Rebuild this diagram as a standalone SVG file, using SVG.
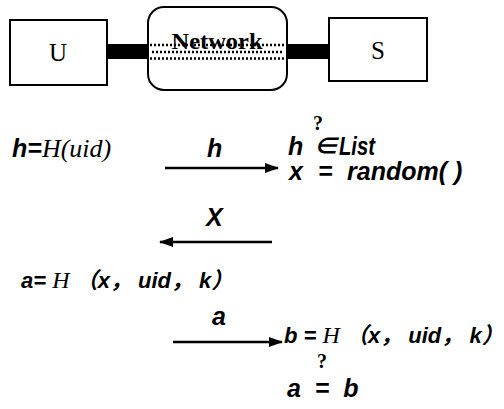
<svg xmlns="http://www.w3.org/2000/svg" width="504" height="409" viewBox="0 0 504 409">
  <style>
    .box { fill: #fff; stroke: #000; stroke-width: 2; }
    .lbl { font-family: "Liberation Serif", "Times New Roman", serif; font-size: 25px; fill: #000; text-anchor: middle; }
    .net { font-family: "Liberation Serif", "Times New Roman", serif; font-size: 24px; font-weight: bold; fill: #000; text-anchor: middle; }
    .f { font-family: "Liberation Sans", Arial, "Noto Sans CJK SC", sans-serif; font-size: 25px; font-weight: bold; font-style: italic; fill: #000; }
    .g { font-size: 22px; }
    .h { font-family: "Liberation Serif", "Times New Roman", serif; font-weight: normal; font-style: italic; }
    .q { font-family: "Liberation Serif", "Times New Roman", serif; font-size: 20px; font-weight: bold; fill: #000; text-anchor: middle; }
    .link { stroke: #000; stroke-width: 15; }
    .dots { stroke: #000; stroke-width: 2.5; stroke-dasharray: 2 2; }
    .arr { stroke: #000; stroke-width: 2.5; fill: none; marker-end: url(#head); }
  </style>
  <defs>
    <marker id="head" viewBox="0 0 14 10" refX="13" refY="5" markerWidth="14" markerHeight="10" markerUnits="userSpaceOnUse" orient="auto">
      <path d="M0,0 L14,5 L0,10 Z" fill="#000"/>
    </marker>
  </defs>

  <!-- thick links between the parties and the network -->
  <g id="links">
    <line class="link" x1="107" y1="51.5" x2="150" y2="51.5"/>
    <line class="link" x1="286" y1="51.5" x2="330" y2="51.5"/>
  </g>

  <g id="node-U">
    <rect class="box" x="10" y="20" width="97" height="65"/>
    <text class="lbl" x="58" y="61">U</text>
  </g>

  <g id="node-Network">
    <rect class="box" x="148" y="7" width="139" height="83" rx="16"/>
    <text class="net" x="217" y="49" textLength="91" lengthAdjust="spacingAndGlyphs">Network</text>
    <!-- dotted channel through the network -->
    <line class="dots" x1="150" y1="45" x2="285" y2="45"/>
    <line class="dots" x1="152" y1="52" x2="284" y2="52"/>
    <line class="dots" x1="150" y1="58.5" x2="285" y2="58.5"/>
  </g>

  <g id="node-S">
    <rect class="box" x="329" y="18" width="98" height="63"/>
    <text class="lbl" x="378" y="59">S</text>
  </g>

  <!-- message flow -->
  <g id="connectors">
    <line class="arr" x1="165" y1="168" x2="278" y2="168"/>
    <line class="arr" x1="272" y1="242" x2="160" y2="242"/>
    <line class="arr" x1="173" y1="342" x2="282" y2="342"/>
  </g>

  <g id="msg-labels">
    <text class="f" x="207" y="157">h</text>
    <text class="f" x="206" y="226" font-style="normal" font-size="26">X</text>
    <text class="f" x="212" y="325">a</text>
  </g>

  <g id="user-side">
    <text class="f" x="12" y="157">h=<tspan class="h" font-size="26">H(uid)</tspan></text>
    <text class="f g" x="21" y="288">a= <tspan class="h" font-size="24">H</tspan> （x， uid， k）</text>
  </g>

  <g id="server-side">
    <text class="f" x="288" y="155">h</text>
    <text class="f" x="313" y="155" font-style="normal" font-weight="normal" font-size="17">∈</text>
    <text class="q" x="318" y="130" font-size="15">?</text>
    <text class="f" x="339" y="155" textLength="36" lengthAdjust="spacingAndGlyphs">List</text>
    <text class="f" x="289" y="180" font-size="24">x</text>
    <text class="f" x="318" y="180" font-size="24" font-style="normal">=</text>
    <text class="f" x="347" y="180" font-size="25" xml:space="preserve">random( )</text>
    <text class="f g" x="284" y="343">b = <tspan class="h" font-size="24">H</tspan> （x， uid， k）</text>
    <text class="q" x="322" y="368">?</text>
    <text class="f" x="287" y="397" xml:space="preserve">a  =  b</text>
  </g>
</svg>
